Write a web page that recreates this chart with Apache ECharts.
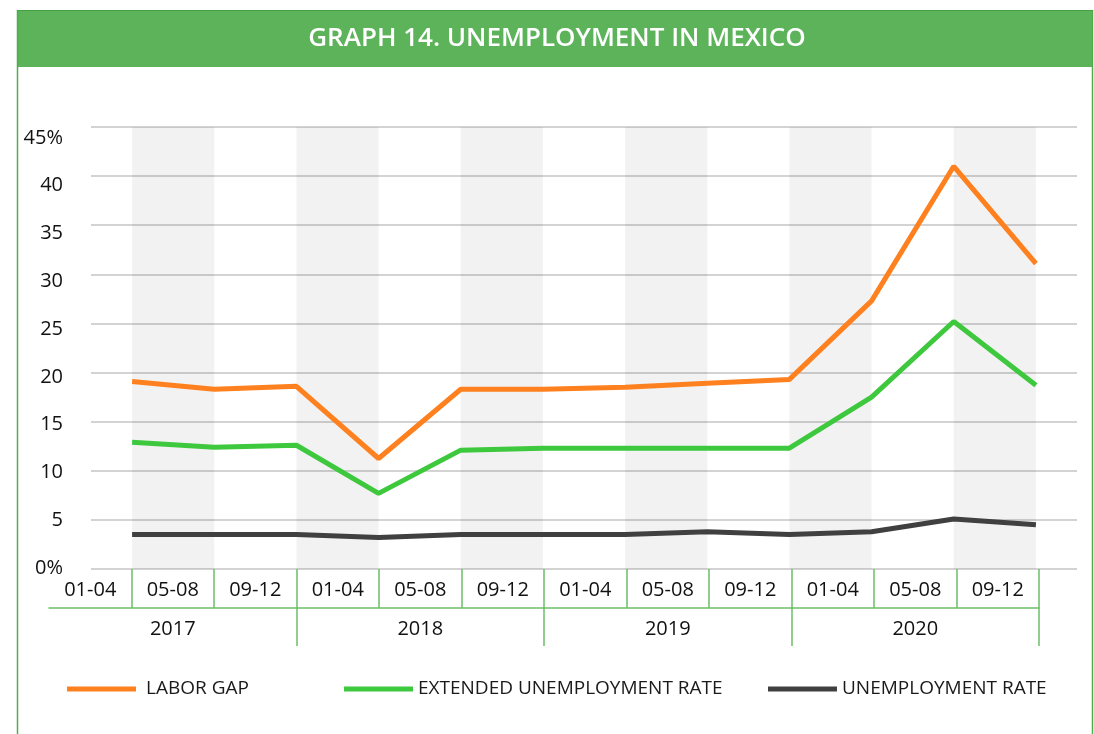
<!DOCTYPE html>
<html>
<head>
<meta charset="utf-8">
<script src="https://cdn.jsdelivr.net/npm/echarts@6/dist/echarts.min.js"></script>
<style>html,body{margin:0;padding:0;background:#fff;}#c{width:1094px;height:734px;}</style>
</head>
<body>
<div id="c"></div>
<script>
// ---- data ----
const years = ['2017', '2018', '2019', '2020'];
const periods = ['01-04', '05-08', '09-12'];
const categories = [
  '2017 01-04', '2017 05-08', '2017 09-12',
  '2018 01-04', '2018 05-08', '2018 09-12',
  '2019 01-04', '2019 05-08', '2019 09-12',
  '2020 01-04', '2020 05-08', '2020 09-12'
];
const laborGap = [19.1, 18.3, 18.6, 11.25, 18.3, 18.3, 18.5, 18.9, 19.3, 27.3, 41.0, 31.1];
const extendedRate = [12.9, 12.4, 12.6, 7.7, 12.1, 12.3, 12.3, 12.3, 12.3, 17.5, 25.2, 18.7];
const unemploymentRate = [3.5, 3.5, 3.5, 3.2, 3.5, 3.5, 3.5, 3.8, 3.5, 3.8, 5.1, 4.5];
const yTickLabels = ['0%', '5', '10', '15', '20', '25', '30', '35', '40', '45%'];
const seriesNames = ['LABOR GAP', 'EXTENDED UNEMPLOYMENT RATE', 'UNEMPLOYMENT RATE'];
const shadedPairs = [[0, 1], [2, 3], [4, 5], [6, 7], [8, 9], [10, 11]];

// ---- styles ----
const FONT = 'Open Sans';
const GREEN_LINE = '#6cbf6a';
const chart = echarts.init(document.getElementById('c'), null, {renderer: 'canvas'});

const option = {
  backgroundColor: '#ffffff',
  animation: false,
  graphic: [
    {type: 'rect', shape: {x: 17, y: 10, width: 1076, height: 57}, style: {fill: '#5db35a'}, z: 10},
    {type: 'rect', shape: {x: 17, y: 10, width: 1076, height: 1}, style: {fill: '#45a045'}, z: 11},
    {type: 'line', shape: {x1: 17.5, y1: 10, x2: 17.5, y2: 734}, style: {stroke: '#4caf4c', lineWidth: 1.5}, z: 10},
    {type: 'line', shape: {x1: 1092.5, y1: 10, x2: 1092.5, y2: 734}, style: {stroke: '#4caf4c', lineWidth: 1.5}, z: 10},
    {type: 'text', x: 557, y: 39, z: 12,
      style: {text: 'GRAPH 14. UNEMPLOYMENT IN MEXICO', fill: '#ffffff',
        font: '600 26px "Open Sans"', textAlign: 'center', textVerticalAlign: 'middle'}}
  ],
  legend: seriesNames.map((n, i) => ({
    data: [n],
    left: [67, 344, 768][i],
    top: 678,
    padding: 0,
    icon: 'rect',
    itemWidth: 69,
    itemHeight: 5,
    itemGap: 0,
    selectedMode: false,
    textStyle: {fontFamily: FONT, fontSize: 19, color: '#1a1a1a', lineHeight: 22,
      padding: i === 0 ? [0, 0, 0, 5] : [0, 0, 0, 0]}
  })),
  grid: [
    {left: 91, right: 17, top: 127, height: 442},
    {left: 49, right: 55, top: 569, height: 39},
    {left: 49, right: 55, top: 608, height: 38},
    {left: 91, right: 17, top: 138, height: 430}
  ],
  xAxis: [
    {gridIndex: 0, type: 'category', data: categories, boundaryGap: true,
      axisLine: {show: false}, axisTick: {show: false}, axisLabel: {show: false}, splitLine: {show: false}},
    {gridIndex: 1, type: 'category', data: categories, boundaryGap: true, position: 'bottom',
      axisLine: {show: true, onZero: false, lineStyle: {color: GREEN_LINE, width: 1.5}},
      axisTick: {show: true, inside: true, length: 39, interval: (idx) => idx !== 0,
        lineStyle: {color: GREEN_LINE, width: 1.5}},
      axisLabel: {inside: true, margin: 8, interval: 0, fontFamily: FONT, fontSize: 20, color: '#111',
        formatter: (v) => v.split(' ')[1]},
      splitLine: {show: false}},
    {gridIndex: 2, type: 'category', data: years, boundaryGap: true, position: 'top',
      axisLine: {show: false, onZero: false},
      axisTick: {show: true, inside: true, length: 38, interval: (idx) => idx !== 0,
        lineStyle: {color: GREEN_LINE, width: 1.5}},
      axisLabel: {inside: true, margin: 11, interval: 0, fontFamily: FONT, fontSize: 20, color: '#111'},
      splitLine: {show: false}},
    {gridIndex: 3, type: 'value', show: false, min: 0, max: 1}
  ],
  yAxis: [
    {gridIndex: 0, type: 'value', min: 0, max: 45, interval: 5,
      axisLine: {show: false}, axisTick: {show: false}, axisLabel: {show: false},
      splitLine: {show: true, lineStyle: {color: '#c4c4c4', width: 1.5}}},
    {gridIndex: 1, type: 'value', show: false, min: 0, max: 1},
    {gridIndex: 2, type: 'value', show: false, min: 0, max: 1},
    {gridIndex: 3, type: 'value', min: 0, max: 45, interval: 5,
      axisLine: {show: false}, axisTick: {show: false}, splitLine: {show: false},
      axisLabel: {margin: 28, fontFamily: FONT, fontSize: 20, color: '#111',
        formatter: (v) => yTickLabels[Math.round(v / 5)]}}
  ],
  series: [
    {name: seriesNames[2], type: 'line', xAxisIndex: 0, yAxisIndex: 0, data: unemploymentRate,
      showSymbol: false, symbol: 'none', lineStyle: {color: '#404040', width: 5}, itemStyle: {color: '#404040'}, z: 3,
      markArea: {silent: true, itemStyle: {color: 'rgba(0,0,0,0.052)'},
        data: shadedPairs.map(p => [{xAxis: categories[p[0]]}, {xAxis: categories[p[1]]}])}},
    {name: seriesNames[1], type: 'line', xAxisIndex: 0, yAxisIndex: 0, data: extendedRate,
      showSymbol: false, symbol: 'none', lineStyle: {color: '#3ec83e', width: 5}, itemStyle: {color: '#3ec83e'}, z: 4},
    {name: seriesNames[0], type: 'line', xAxisIndex: 0, yAxisIndex: 0, data: laborGap,
      showSymbol: false, symbol: 'none', lineStyle: {color: '#ff801e', width: 5}, itemStyle: {color: '#ff801e'}, z: 5}
  ]
};
chart.setOption(option);
</script>
</body>
</html>
